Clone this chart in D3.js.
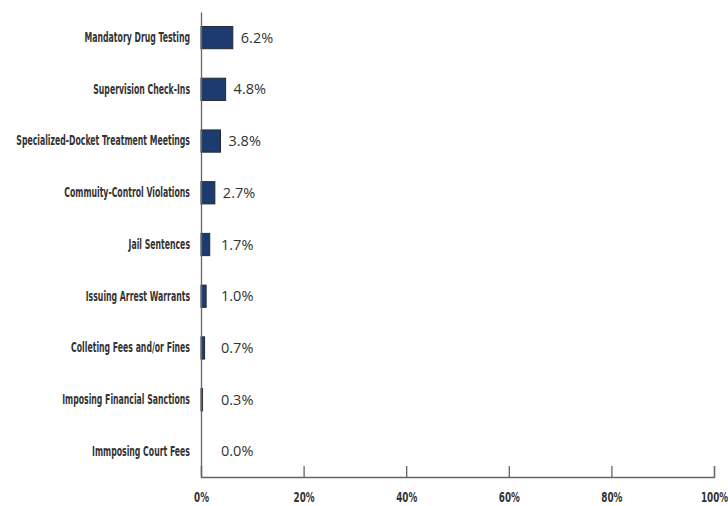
<!DOCTYPE html>
<html><head><meta charset="utf-8">
<script src="https://cdn.jsdelivr.net/npm/d3@7"></script>
<style>body{margin:0;background:#fff}</style>
</head><body><svg id="c" width="728" height="506"></svg>
<script>
const categories = ["Mandatory Drug Testing","Supervision Check-Ins","Specialized-Docket Treatment Meetings","Commuity-Control Violations","Jail Sentences","Issuing Arrest Warrants","Colleting Fees and/or Fines","Imposing Financial Sanctions","Immposing Court Fees"];
const values = [6.2,4.8,3.8,2.7,1.7,1.0,0.7,0.3,0.0];
const tickValues = [0,20,40,60,80,100];

const svg = d3.select("#c");
const x = d3.scaleLinear().domain([0,100]).range([201,714]);
const y = d3.scaleBand().domain(categories).range([12,477]).paddingInner(0.57).paddingOuter(0.28);

const condensed = "'DejaVu Sans Condensed','DejaVu Sans',sans-serif";
const sx = 0.635;

// bars
svg.selectAll("rect.bar").data(values).join("rect")
  .attr("class","bar")
  .attr("x",x(0))
  .attr("y",(d,i)=>y(categories[i]))
  .attr("width",d=>x(d)-x(0))
  .attr("height",y.bandwidth())
  .attr("fill","#1d3b6e")
  .attr("stroke","#222a36")
  .attr("stroke-width",1);

// value labels
svg.selectAll("text.val").data(values).join("text")
  .attr("class","val")
  .attr("x",d=>Math.max(x(d)+8,221))
  .attr("y",(d,i)=>y(categories[i])+y.bandwidth()/2)
  .attr("dy","0.35em")
  .attr("font-family","'Open Sans', sans-serif")
  .attr("font-size",14.5)
  .attr("fill","#333")
  .text(d=>d.toFixed(1)+"%");

// y axis
const ya = svg.append("g").attr("transform",`translate(${x(0)},0)`)
  .call(d3.axisLeft(y).tickSize(0).tickPadding(11));
ya.select(".domain").attr("stroke","#666").attr("stroke-width",1.3);
ya.selectAll(".tick text").each(function(){
  const t = d3.select(this);
  const tx = +t.attr("x");
  t.attr("x",0).attr("transform",`translate(${tx},0) scale(${sx},1)`);
}).attr("font-family",condensed).attr("font-size",13.6).attr("font-weight","bold").attr("fill","#333");

// x axis
const xa = svg.append("g").attr("transform",`translate(0,477)`)
  .call(d3.axisTop(x).tickValues(tickValues).tickSize(11).tickFormat(d=>d+"%"));
xa.select(".domain").attr("stroke","#666").attr("stroke-width",1.3);
xa.selectAll("line").attr("stroke","#666").attr("stroke-width",1.3);
xa.selectAll(".tick text").attr("y",0).attr("dy","0.35em")
  .attr("transform",`translate(0,20) scale(0.7,1)`)
  .attr("font-family",condensed).attr("font-size",14).attr("font-weight","bold").attr("fill","#333");
</script></body></html>
